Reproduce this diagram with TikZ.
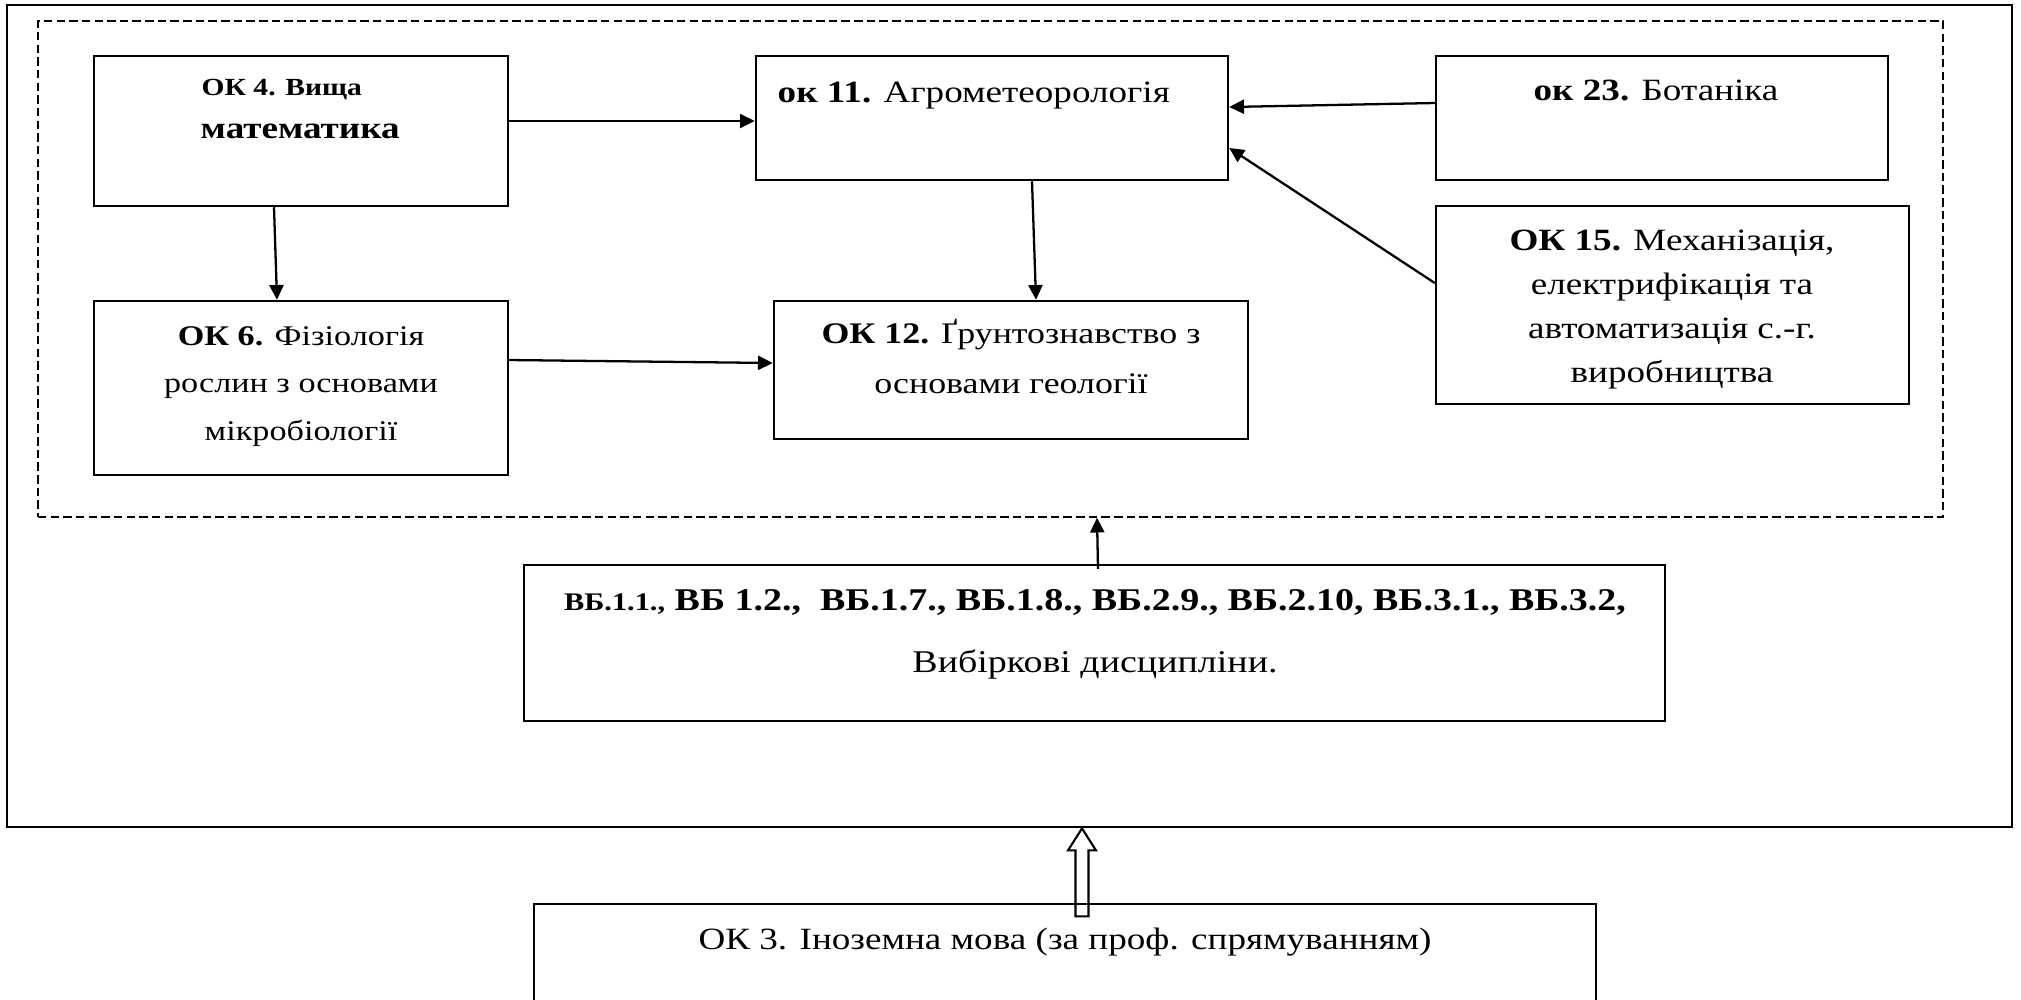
\documentclass[tikz,border=0pt]{standalone}
\usepackage{fontspec}
\setmainfont{Liberation Serif}[FakeStretch=1.2]
\usetikzlibrary{arrows.meta,calc,fit}
\begin{document}
\begin{tikzpicture}[x=0.01cm,y=-0.01cm,
  box/.style={draw, line width=0.7pt, inner sep=0pt},
  grp/.style={draw, line width=0.4pt, dash pattern=on 2.4pt off 1.2pt, inner sep=0pt},
  conn/.style={line width=0.65pt, -{Triangle[length=4.2pt,width=4pt]}},
  txt/.style={inner sep=0pt, align=center, font=\fontsize{8.8}{13}\selectfont},
]
\clip (0,0) rectangle (2021,999);
\fill[white] (0,0) rectangle (2021,999);
% frames
\node[box, line width=0.8pt, fit={(7,5) (2012,827)}] (frame) {};
\node[grp, fit={(38,21) (1943,517)}] (group) {};
% boxes
\node[box, fit={(94,56) (508,206)}] (ok4) {};
\node[box, fit={(94,301) (508,475)}] (ok6) {};
\node[box, fit={(756,56) (1228,180)}] (ok11) {};
\node[box, fit={(774,301) (1248,439)}] (ok12) {};
\node[box, fit={(1436,56) (1888,180)}] (ok23) {};
\node[box, fit={(1436,206) (1909,404)}] (ok15) {};
\node[box, fit={(524,565) (1665,721)}] (vb) {};
\node[box, fit={(534,904) (1596,1040)}] (ok3) {};
% texts (anchor=base sits on the last line's baseline)
\node[anchor=base west, inner sep=0pt, font=\fontsize{7}{8}\selectfont\bfseries] (ok4a) at (201,95) {ОК 4. Вища};
\node[anchor=base west, inner sep=0pt, font=\fontsize{8.8}{10}\selectfont\bfseries] (ok4b) at (200,138) {математика};
\node[txt, anchor=base west] (ok11t) at (777,102) {\textbf{ок 11.} Агрометеорологія};
\node[txt, anchor=base] (ok23t) at (1656,100) {\textbf{ок 23.} Ботаніка};
\node[txt, anchor=base, font=\fontsize{8.8}{12.5}\selectfont] (ok15t) at (1672,382) {\textbf{ОК 15.} Механізація,\\електрифікація та\\автоматизація с.-г.\\виробництва};
\node[txt, anchor=base, font=\fontsize{8.1}{13.4}\selectfont] (ok6t) at (301,440) {\textbf{ОК 6.} Фізіологія\\рослин з основами\\мікробіології};
\node[txt, anchor=base, font=\fontsize{8.5}{14.2}\selectfont] (ok12t) at (1011,393) {\textbf{ОК 12.} Ґрунтознавство з\\основами геології};
\node[txt, anchor=base, font=\fontsize{9}{17.6}\selectfont] (vbt) at (1095,672) {{\fontsize{7.2}{8}\selectfont\bfseries ВБ.1.1.,} \textbf{ВБ 1.2.,\ \ ВБ.1.7., ВБ.1.8., ВБ.2.9., ВБ.2.10, ВБ.3.1., ВБ.3.2,}\\Вибіркові дисципліни.};
\node[txt, anchor=base] (ok3t) at (1065,949) {ОК 3. Іноземна мова (за проф. спрямуванням)};
% connectors
\draw[conn] ($(ok4.east)+(0,-10)$) -- ($(ok11.west)+(0,3)$);
\draw[conn] ($(ok4.south)+(-27,0)$) -- ($(ok6.north)+(-24,0)$);
\draw[conn] ($(ok11.south)+(40,0)$) -- ($(ok12.north)+(25,0)$);
\draw[conn] ($(ok6.east)+(0,-28)$) -- ($(ok12.west)+(0,-7)$);
\draw[conn] ($(ok23.west)+(0,-15)$) -- ($(ok11.east)+(0,-11)$);
\draw[conn] ($(ok15.west)+(0,-22)$) -- ($(ok11.east)+(0,30)$);
\draw[conn] ($(vb.north)+(3.5,5)$) -- ($(group.south)+(106.5,0)$);
% hollow block arrow from ok3 to frame
\coordinate (htip) at ($(frame.south)+(72.5,0)$);
\draw[line width=0.6pt] ($(htip)+(-6.5,88)$) -- ($(htip)+(-6.5,22)$) -- ($(htip)+(-14,22)$) -- (htip) -- ($(htip)+(14,22)$) -- ($(htip)+(6.5,22)$) -- ($(htip)+(6.5,88)$) -- cycle;
\end{tikzpicture}
\end{document}
